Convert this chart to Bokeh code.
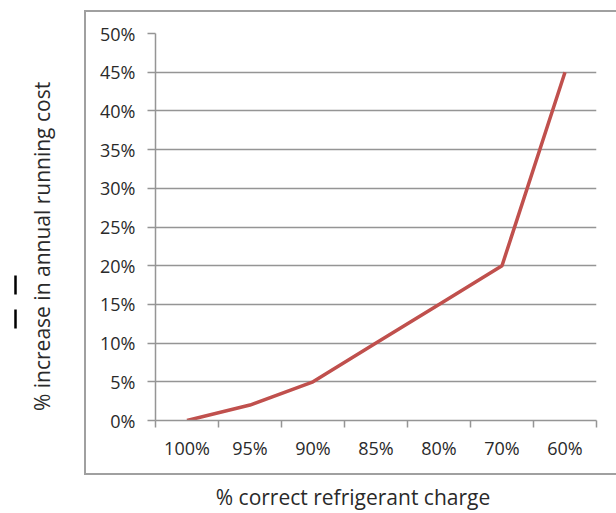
from bokeh.plotting import figure
from bokeh.models import (Range1d, FixedTicker, NumeralTickFormatter, LinearAxis,
                          InlineStyleSheet)
from bokeh.embed import file_html
from bokeh.resources import INLINE

categories = ["100%", "95%", "90%", "85%", "80%", "70%", "60%"]
increase = [0.0, 0.02, 0.05, 0.10, 0.15, 0.20, 0.45]
y_ticks = [0.0, 0.05, 0.10, 0.15, 0.20, 0.25, 0.30, 0.35, 0.40, 0.45, 0.50]
x_title = "% correct refrigerant charge"
y_title = "% increase in annual running cost"

n = len(categories)
xs = [i + 0.5 for i in range(n)]

GRID = "#959595"
TXT = "#2a2a2a"
FONT = "Open Sans"

W, H = 616, 513
FL, FT, FR, FB = 155, 33, 596, 421  # frame edges (pixels)
p = figure(width=W, height=H, output_backend="svg", toolbar_location=None,
           x_range=Range1d(0, n), y_range=Range1d(0, 0.5),
           min_border_left=FL, min_border_right=W - FR, min_border_top=FT,
           min_border_bottom=H - FB)
p.outline_line_color = None
p.background_fill_color = "white"
p.border_fill_color = "white"

# pixel-based helper ranges used only to place the axis titles / marks
p.extra_x_ranges = {"px": Range1d(FL, FR)}
p.extra_y_ranges = {"py": Range1d(FB, FT)}

p.xgrid.grid_line_color = None
p.ygrid.grid_line_color = GRID
p.ygrid.grid_line_width = 1.5

# y axis
p.yaxis.ticker = FixedTicker(ticks=y_ticks)
p.yaxis.formatter = NumeralTickFormatter(format="0%")
p.yaxis.axis_line_color = GRID
p.yaxis.axis_line_width = 1.5
p.yaxis.major_tick_line_color = GRID
p.yaxis.major_tick_line_width = 1.5
p.yaxis.major_tick_out = 8
p.yaxis.major_tick_in = 0
p.yaxis.minor_tick_line_color = None
p.yaxis.major_label_standoff = 12
p.yaxis.major_label_text_font = FONT
p.yaxis.major_label_text_font_size = "18px"
p.yaxis.major_label_text_color = TXT

# x axis: labels at category centres, ticks at category boundaries
p.xaxis.ticker = FixedTicker(ticks=xs, minor_ticks=list(range(n + 1)))
p.xaxis.major_label_overrides = {x: c for x, c in zip(xs, categories)}
p.xaxis.axis_line_color = GRID
p.xaxis.axis_line_width = 1.5
p.xaxis.major_tick_line_color = None
p.xaxis.major_tick_out = 0
p.xaxis.major_tick_in = 0
p.xaxis.minor_tick_line_color = GRID
p.xaxis.minor_tick_line_width = 1.5
p.xaxis.minor_tick_out = 7
p.xaxis.minor_tick_in = 0
p.xaxis.major_label_standoff = 8
p.xaxis.major_label_text_font = FONT
p.xaxis.major_label_text_font_size = "18px"
p.xaxis.major_label_text_color = TXT

p.line(xs, increase, line_color="#C0504D", line_width=3.5)


def title_axis(range_kwargs, pos, text, standoff, orientation, **extra):
    return LinearAxis(ticker=FixedTicker(ticks=[pos]),
                      major_label_overrides={pos: text},
                      axis_line_color=None, major_tick_line_color=None,
                      minor_tick_line_color=None, major_tick_out=0, major_tick_in=0,
                      major_label_standoff=standoff,
                      major_label_orientation=orientation,
                      major_label_text_font=FONT, major_label_text_font_size="21px",
                      major_label_text_color=TXT, **range_kwargs, **extra)


# x title centred at x=352.5 px, y title centred at y=246.5 px
p.add_layout(title_axis({"x_range_name": "px"}, 352.5, x_title, 20, "horizontal"), "below")
p.add_layout(title_axis({"y_range_name": "py"}, 246.5, y_title, 41, "vertical",
                        axis_label=" ", axis_label_standoff=4,
                        axis_label_text_font_size="3px"), "left")

# two small black marks at the far left (a dashed, bounded axis rule)
p.add_layout(LinearAxis(y_range_name="py", bounds=(276, 329),
                        ticker=FixedTicker(ticks=[]),
                        axis_line_color="black", axis_line_width=2.5,
                        axis_line_dash="19 15",
                        major_tick_line_color=None, minor_tick_line_color=None,
                        major_tick_out=0, major_tick_in=0,
                        major_label_text_font_size="0px"), "left")

# chart-area border (open to the right edge of the window)
p.stylesheets = [InlineStyleSheet(css="""
:host::after {
  content: "";
  position: absolute;
  left: 84px; top: 10px;
  width: 560px; height: 465px;
  border: 2px solid #a0a0a0;
  pointer-events: none;
  box-sizing: border-box;
}
""")]

open("out.html", "w").write(file_html(p, INLINE))
